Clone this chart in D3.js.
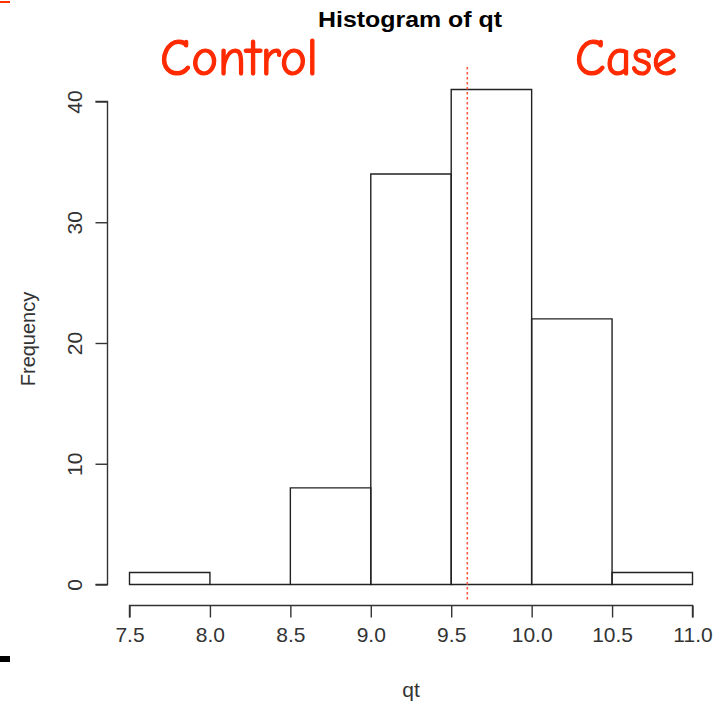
<!DOCTYPE html>
<html>
<head>
<meta charset="utf-8">
<script src="https://cdn.jsdelivr.net/npm/d3@7"></script>
<style>
  body { margin: 0; background: #fff; }
  svg { display: block; }
</style>
</head>
<body>
<svg id="chart" width="715" height="701"></svg>
<script>
// histogram bins of qt
var binStarts = [7.5, 8.0, 8.5, 9.0, 9.5, 10.0, 10.5];
var binWidth = 0.5;
var counts = [1, 0, 8, 34, 41, 22, 1];
var xTicks = [7.5, 8.0, 8.5, 9.0, 9.5, 10.0, 10.5, 11.0];
var yTicks = [0, 10, 20, 30, 40];
var cutoff = 9.6;

var svg = d3.select("#chart");
var axisColor = "#333";
var font = "'Liberation Sans', Arial, sans-serif";

var x = d3.scaleLinear().domain([7.5, 11.0]).range([129.5, 692.5]);
var y = d3.scaleLinear().domain([0, 40]).range([584.5, 101.5]);

// bars (paths so the empty bin still draws its base line)
svg.append("g")
    .selectAll("path")
    .data(counts)
    .join("path")
    .attr("d", (d, i) => {
        var x0 = x(binStarts[i]), x1 = x(binStarts[i] + binWidth);
        return `M${x0},${y(0)}V${y(d)}H${x1}V${y(0)}Z`;
    })
    .attr("fill", "none")
    .attr("stroke", "#222")
    .attr("stroke-width", 1.4);

// x axis
var xAxis = d3.axisBottom(x).tickValues(xTicks).tickFormat(d3.format(".1f")).tickSize(12).tickPadding(10);
var gx = svg.append("g").attr("transform", "translate(0,605.5)").call(xAxis);
gx.select(".domain").attr("d", `M${x(7.5)},12V0H${x(11.0)}V12`);
gx.selectAll("line, path").attr("stroke", axisColor).attr("stroke-width", 1.4);
gx.selectAll("text").attr("fill", axisColor).style("font", "21px " + font);

// y axis
var yAxis = d3.axisLeft(y).tickValues(yTicks).tickSize(12);
var gy = svg.append("g").attr("transform", "translate(107.5,0)").call(yAxis);
gy.select(".domain").attr("d", `M-12,${y(0)}H0V${y(40)}H-12`);
gy.selectAll("line, path").attr("stroke", axisColor).attr("stroke-width", 1.4);
gy.selectAll("text")
    .attr("fill", axisColor)
    .style("font", "21px " + font)
    .attr("text-anchor", "middle")
    .attr("x", null).attr("dy", null)
    .attr("transform", "translate(-26,0) rotate(-90)")
    .attr("y", 0);

// cutoff line
svg.append("line")
    .attr("x1", x(cutoff)).attr("x2", x(cutoff))
    .attr("y1", 67).attr("y2", 602)
    .attr("stroke", "#ff5a40")
    .attr("stroke-width", 1.6)
    .attr("stroke-dasharray", "2.5,2.5");

// titles
svg.append("text")
    .attr("x", 410).attr("y", 27)
    .attr("text-anchor", "middle")
    .attr("textLength", 184)
    .attr("lengthAdjust", "spacingAndGlyphs")
    .style("font", "bold 22px " + font)
    .text("Histogram of qt");

svg.append("text")
    .attr("x", 411).attr("y", 697)
    .attr("text-anchor", "middle")
    .attr("fill", axisColor)
    .style("font", "21px " + font)
    .text("qt");

svg.append("text")
    .attr("transform", "translate(35,339) rotate(-90)")
    .attr("text-anchor", "middle")
    .attr("fill", axisColor)
    .style("font", "20px " + font)
    .text("Frequency");

// group labels
var labelFont = "'Comic Sans MS', 'Comic Neue', 'DejaVu Sans', sans-serif";
svg.append("text")
    .attr("x", 239).attr("y", 75)
    .attr("text-anchor", "middle")
    .attr("textLength", 158)
    .attr("lengthAdjust", "spacingAndGlyphs")
    .attr("fill", "#ff2a00")
    .attr("stroke", "#ff2a00")
    .attr("stroke-width", 1.2)
    .style("font", "52px " + labelFont)
    .text("Control");

svg.append("text")
    .attr("x", 626).attr("y", 75)
    .attr("text-anchor", "middle")
    .attr("textLength", 102)
    .attr("lengthAdjust", "spacingAndGlyphs")
    .attr("fill", "#ff2a00")
    .attr("stroke", "#ff2a00")
    .attr("stroke-width", 1.2)
    .style("font", "52px " + labelFont)
    .text("Case");

// stray marks at the left edge
svg.append("rect").attr("x", 0).attr("y", 1).attr("width", 10).attr("height", 2).attr("fill", "#ff3300");
svg.append("rect").attr("x", 0).attr("y", 656).attr("width", 10).attr("height", 6).attr("fill", "#000");
</script>
</body>
</html>
